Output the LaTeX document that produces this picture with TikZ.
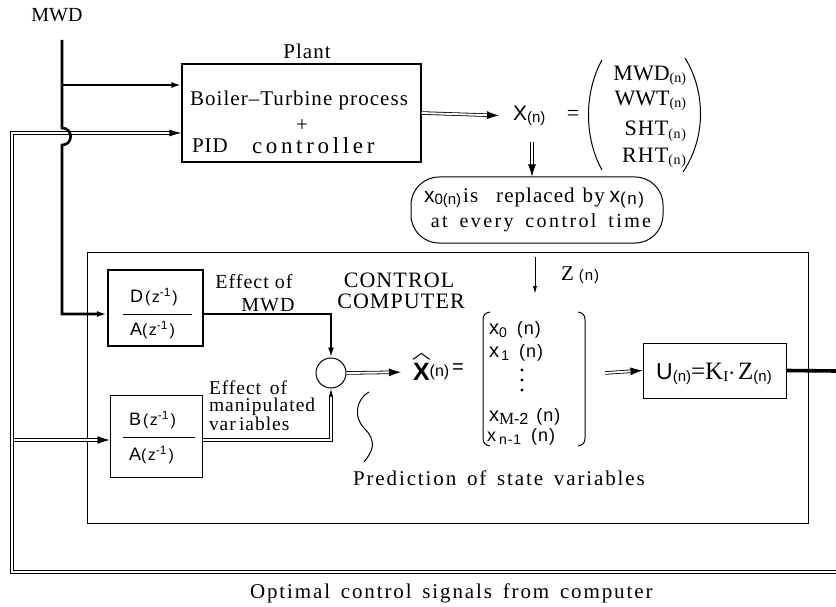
\documentclass[tikz,border=0pt]{standalone}
\usepackage{fontspec}
\setmainfont{Liberation Serif}
\setsansfont{Liberation Sans}
\newfontfamily\ssf{Liberation Sans}
\newfontfamily\lsA[LetterSpace=5]{Liberation Serif}
\newfontfamily\lsB[LetterSpace=9,WordSpace=1.5]{Liberation Serif}
\newfontfamily\lsC[LetterSpace=12,WordSpace=1.6]{Liberation Serif}
\newfontfamily\lsD[LetterSpace=16]{Liberation Serif}
\usetikzlibrary{arrows.meta,calc}
\newcommand{\fs}[1]{\fontsize{#1}{#1}\selectfont}
\newcommand{\lowr}[1]{\raisebox{-2.5pt}{#1}}
\newcommand{\zinv}{\fs{16}(\hspace{1.5pt}z\raisebox{6pt}{\fs{12}-1}\hspace{2pt})}
\begin{document}
\begin{tikzpicture}[x=1pt,y=-1pt,
  thk/.style={line width=2.6pt},
  thn/.style={line width=1pt},
  dbl/.style={double=white, draw=black, line width=0.8pt, double distance=1.9pt},
  tip/.style={-{Latex[length=10pt,width=6pt]}},
  dtip/.style={-{Latex[length=12pt,width=8pt]}},
  stip/.style={-{Latex[length=8pt,width=4pt]}},
  txt/.style={inner sep=0pt, outer sep=0pt},
  blk/.style={draw, line width=1.2pt, inner sep=0pt},
]
\useasboundingbox (0,0) rectangle (836,607);

% ---------- top part ----------
\node[txt] (mwdlbl) at (57,15) {\fs{20}MWD};
\node[blk, minimum width=239pt, minimum height=98pt] (plant) at (301.5,113) {};
\node[txt] (plantlbl) at (307,51) {\lsA\fs{21}Plant};
\node[txt] (bt) at (299,100) {\lsA\fs{21}Boiler\kern1pt–\kern1pt Turbine process};
\node[txt] (plus) at (302,126) {\fs{21}+};
\node[txt, anchor=west] (pid) at (192,146) {\lsA\fs{21}PID};
\node[txt, anchor=west] (ctl) at (252,146) {\lsD\fs{23}controller};

\node[txt, anchor=west] (xn) at (513,116) {\ssf\fs{21}X\fs{15}\lowr{(n)}};
\node[txt] (eq1) at (573,115) {\fs{22}=};
\draw[thn] (602,60) .. controls (584,92) and (584,138) .. (602,170);
\draw[thn] (685,58) .. controls (706,92) and (706,138) .. (683,172);
\node[txt, anchor=east] (v1) at (686,76) {\fs{22}MWD\fs{14}\lowr{(n)}};
\node[txt, anchor=east] (v2) at (686,101) {\fs{22}WWT\fs{14}\lowr{(n)}};
\node[txt, anchor=east] (v3) at (686,131) {\lsA\fs{22}SHT\fs{14}\lowr{(n)}};
\node[txt, anchor=east] (v4) at (686,158) {\lsA\fs{22}RHT\fs{14}\lowr{(n)}};

\node[draw, thn, rounded corners=28pt, minimum width=252pt, minimum height=66pt] (rep) at (537,210) {};
\node[txt, anchor=west] (rep1) at (424,198) {{\ssf\fs{21}x\lowr{\fs{15}0(n)}}\hspace{2pt}\lsA\fs{21}is\hspace{18pt}replaced\hspace{8pt}by\hspace{5pt}{\ssf\fs{21}x\lowr{\fs{17}(\hspace{1.5pt}n\hspace{1.5pt})}}};
\node[txt] (rep2) at (541,223) {\lsC\fs{20}at every control time};

% ---------- computer ----------
\node[draw, thn, minimum width=721pt, minimum height=271pt, inner sep=0pt] (comp) at (447.5,387.5) {};
\node[txt] (cc1) at (399,280) {\lsA\fs{22}CONTROL};
\node[txt] (cc2) at (401,301) {\lsA\fs{22}COMPUTER};

\node[draw, line width=2.4pt, minimum width=95pt, minimum height=76pt, inner sep=0pt] (da) at (155.5,308) {};
\node[txt, anchor=west] (dnum) at (130,297) {\ssf\fs{18}D\hspace{2pt}\zinv};
\node[txt, anchor=west] (dden) at (130,330) {\ssf\fs{18}A\zinv};
\draw[line width=1pt] (123,314) -- (192,314);

\node[blk, line width=1pt, minimum width=92pt, minimum height=82pt] (ba) at (156,436) {};
\node[txt, anchor=west] (bnum) at (129,420) {\ssf\fs{18}B\hspace{2pt}\zinv};
\node[txt, anchor=west] (bden) at (129,455) {\ssf\fs{18}A\zinv};
\draw[line width=1pt] (123,437) -- (195,437);

\node[txt] (em1) at (254,282) {\lsA\fs{20}Effect of};
\node[txt] (em2) at (268,305) {\lsA\fs{20}MWD};
\node[txt, anchor=north west, align=left, font=\lsA\fontsize{19.5}{17}\selectfont] (ev) at (209,381)
  {Effect\hspace{3pt} of\\manipulated\\var\,iables};

\node[draw, circle, thn, minimum size=30pt, inner sep=0pt] (sum) at (331,373) {};

\node[txt, anchor=west] (xhat) at (413,372) {\ssf\bfseries\fs{25}X};
\draw[thn] ($(xhat.north west)+(0,-4)$) -- ($(xhat.north)+(0,-10)$) -- ($(xhat.north east)+(0,-4)$);
\node[txt, anchor=west] (xhn) at (xhat.east) {\ssf\fs{16}\lowr{(n)}\hspace{3pt}\fs{20}=};

% bracket vector
\draw[thn] (490,312) .. controls (485,313) and (483,315) .. (483,320) -- (483,438) .. controls (483,443) and (485,445) .. (490,446);
\draw[thn] (578,312) .. controls (583,313) and (585,315) .. (585,320) -- (585,438) .. controls (585,443) and (583,445) .. (578,446);
\node[txt, anchor=west] (z0) at (489,330) {\ssf\fs{20}x\lowr{\fs{14}0}\hspace{10pt}\fs{18}(\hspace{1pt}n\hspace{1pt})};
\node[txt, anchor=west] (z1) at (489,353) {\ssf\fs{20}x\lowr{\fs{14}\,1}\hspace{10pt}\fs{18}(\hspace{1pt}n\hspace{1pt})};
\fill (522,370) circle (1.7pt) (522,380) circle (1.7pt) (522,390) circle (1.7pt);
\node[txt, anchor=west] (z2) at (489,417) {\ssf\fs{20}x\lowr{\rmfamily\fs{17}M\ssf\fs{16}-2}\hspace{8pt}\fs{18}(\hspace{1pt}n\hspace{1pt})};
\node[txt, anchor=west] (z3) at (487,437) {\ssf\fs{18}x\lowr{\fs{14}\hspace{3pt}n\hspace{1pt}-\hspace{1pt}1}\hspace{10pt}\fs{18}(\hspace{1pt}n\hspace{1pt})};

\coordinate (zt) at (535,257);
\coordinate (zb) at (535,294);
\draw[line width=0.9pt, stip] (zt) -- (zb);
\node[txt, anchor=west] (zlbl) at (561,275) {\fs{21}Z\hspace{5pt}\ssf\fs{15}(\hspace{1pt}n\hspace{1pt})};

\node[blk, line width=1pt, minimum width=143pt, minimum height=55pt] (ubox) at (714.5,370.5) {};
\node[txt] (ulbl) at (714,374) {\ssf\fs{23}U\fs{15}\lowr{(n)}\rmfamily\fs{25}=K\lowr{\fs{15}I}$\cdot$\hspace{3pt}Z\ssf\fs{15}\lowr{(n)}};

\node[txt, anchor=west] (pred) at (353,478) {\lsB\fs{21}Prediction of state variables};
\draw[thn] (369,392) .. controls (355,400) and (354,418) .. (364,428) .. controls (378,442) and (372,452) .. (364,462);

\node[txt, anchor=west] (opt) at (250,593) {\lsB\fs{21}Optimal control signals from computer};

% ---------- connectors ----------
\coordinate (m0) at (62,40);
\coordinate (mj) at (62,85);
\coordinate (h1) at (62,128);
\coordinate (h2) at (62,145);
\coordinate (mc) at (62,314);
\coordinate (f0) at (12,133);
\coordinate (f1) at (12,572);
\coordinate (f2) at (836,572);
\coordinate (fb) at (13.5,440);
\coordinate (dc) at (331,314);
\coordinate (bc) at (331,440);
\coordinate (outR) at (836,371);

% feedback double lines
\draw[dbl, {Latex[length=12pt,width=7pt]}-] (f0 -| plant.west) -- (f0) -- (f1) -- (f2);
\draw[dbl, dtip] (fb) -- (fb -| ba.west);

% MWD lines
\draw[thk, tip] (mj) -- (mj -| plant.west);
\draw[thk, tip] (m0) -- (h1) .. controls (73.5,128) and (73.5,145) .. (h2) -- (mc) -- (mc -| da.west);

% plant output
\draw[dbl, dtip, shorten >=14pt] (plant.east |- 0,113) -- (xn.west);
\draw[dbl, dtip] (532,142) -- (rep.north -| 532,0);

% summation inputs
\draw[thk, tip] (mc -| da.east) -- (dc) -- (sum.north);
\draw[dbl, stip] (bc -| ba.east) -- (bc) -- (sum.south);
\draw[dbl, dtip, shorten >=12pt] (sum.east) -- (xhat.west);
\draw[dbl, dtip] (605,373) -- (ubox.west);
\draw[line width=3.6pt] (ubox.east) -- (outR);
\end{tikzpicture}
\end{document}
